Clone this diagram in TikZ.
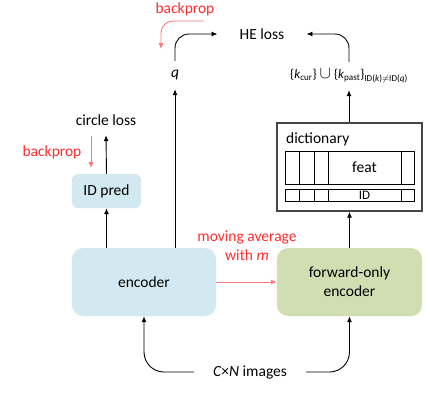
\documentclass[tikz,border=0pt]{standalone}
\usepackage{fontspec}
\setmainfont{Carlito}
\usetikzlibrary{arrows.meta}
\definecolor{encblue}{RGB}{210,233,241}
\definecolor{fwdgreen}{RGB}{209,222,178}
\definecolor{txtred}{RGB}{255,45,45}
\definecolor{arrred}{RGB}{255,120,120}
\definecolor{dictgray}{RGB}{70,70,70}
\tikzset{
  lbl/.style={inner sep=0pt, font=\fontsize{15.5bp}{19bp}\selectfont},
  redlbl/.style={lbl, text=txtred},
  box/.style={lbl, draw=none, inner sep=0pt, align=center},
  arr/.style={draw=black, line width=0.9bp, -{Latex[length=6bp,width=5bp]}},
  redarr/.style={draw=arrred, line width=0.9bp, -{Latex[length=6bp,width=5bp]}},
  cell/.style={draw=black, line width=0.9bp},
}
\begin{document}
\begin{tikzpicture}[x=1bp,y=-1bp]
\useasboundingbox (0,0) rectangle (430,410);
% boxes
\node[box, fill=encblue, rounded corners=6bp, minimum width=69bp, minimum height=34bp] (idp) at (106.5,191) {ID pred};
\node[box, fill=encblue, rounded corners=11bp, minimum width=144bp, minimum height=68bp] (enc) at (144,282) {encoder};
\node[box, fill=fwdgreen, rounded corners=11bp, minimum width=145bp, minimum height=68bp] (fwd) at (349.5,282) {forward-only\\encoder};
\node[draw=dictgray, line width=1.4bp, minimum width=145bp, minimum height=88bp, inner sep=0pt] (dict) at (349.5,167) {};
\node[lbl, anchor=base west] (dictlbl) at (286,143) {dictionary};
% feat row
\draw[cell] (285,151) rectangle (414,184);
\foreach \xx in {299,314,328,401} \draw[cell] (\xx,151) -- (\xx,184);
\node[lbl] (feat) at (364.5,167.5) {feat};
% ID row
\draw[cell] (285,189) rectangle (414,201);
\foreach \xx in {299,314,328,401} \draw[cell] (\xx,189) -- (\xx,201);
\node[lbl, font=\fontsize{13bp}{15bp}\selectfont] (idrow) at (364.5,195.5) {ID};
% labels
\node[lbl, inner xsep=22bp] (heloss) at (262,34) {HE loss};
\node[lbl, minimum height=28bp] (q) at (175,75) {\textit{q}};
\node[lbl, minimum height=28bp, font=\fontsize{13bp}{15bp}\selectfont] (kset) at (349,76) {\{\textit{k}\textsubscript{cur}\} {\fontsize{18bp}{18bp}\selectfont$\cup$} \{\textit{k}\textsubscript{past}\}\textsubscript{ID(\textit{k})$\neq$ID(\textit{q})}};
\node[lbl, minimum height=30bp] (circ) at (106,120) {circle loss};
\node[lbl, inner xsep=19bp] (cn) at (250,372) {\textit{C}×\textit{N} images};
\node[redlbl] (bp1) at (185,9) {backprop};
\node[redlbl] (bp2) at (52,152) {backprop};
\node[redlbl, align=center] (mov) at (247,245.5) {moving average\\with \textit{m}};
% black connectors
\draw[arr] (enc.north -| idp.south) -- (idp.south);
\draw[arr] (idp.north) -- (circ.south);
\draw[arr] (enc.north -| q.south) -- (q.south);
\draw[arr, rounded corners=14bp] (q.north) |- (heloss.west);
\draw[arr, rounded corners=14bp] (kset.north) |- (heloss.east);
\draw[arr] (dict.north -| kset.south) -- (kset.south);
\draw[arr] (fwd.north) -- (dict.south);
\draw[arr, rounded corners=20bp] (cn.west) -| (enc.south);
\draw[arr, rounded corners=20bp] (cn.east) -| (fwd.south);
% red connectors
\draw[redarr] (enc.east) -- (fwd.west);
\coordinate (r1s) at (204,21);
\coordinate (r1e) at (161,49);
\draw[redarr, rounded corners=12bp] (r1s) -| (r1e);
\coordinate (r2s) at (91,136);
\coordinate (r2e) at (91,168);
\draw[redarr] (r2s) -- (r2e);
\end{tikzpicture}
\end{document}
